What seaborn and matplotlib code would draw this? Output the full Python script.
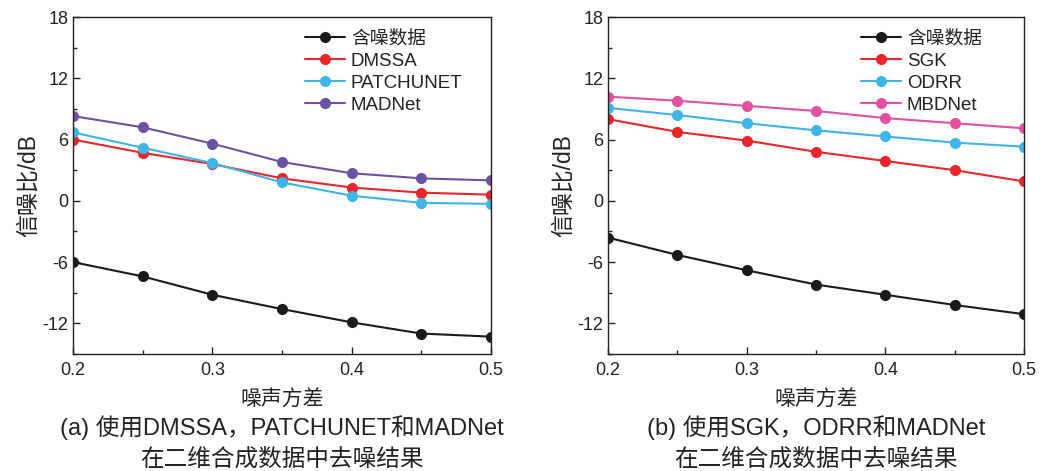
import numpy as np
import pandas as pd
import matplotlib
matplotlib.use("Agg")
import matplotlib.pyplot as plt
import seaborn as sns
from matplotlib.ticker import MultipleLocator

noise_var = [0.2, 0.25, 0.3, 0.35, 0.4, 0.45, 0.5]

# Panel (a)
a_names = ["含噪数据", "DMSSA", "PATCHUNET", "MADNet"]
a_noisy = [-6.0, -7.4, -9.2, -10.6, -11.9, -13.0, -13.3]
a_dmssa = [6.0, 4.7, 3.6, 2.2, 1.3, 0.8, 0.6]
a_patch = [6.7, 5.2, 3.7, 1.8, 0.5, -0.2, -0.3]
a_madnet = [8.3, 7.2, 5.6, 3.8, 2.7, 2.2, 2.0]

# Panel (b)
b_names = ["含噪数据", "SGK", "ODRR", "MBDNet"]
b_noisy = [-3.6, -5.3, -6.8, -8.2, -9.2, -10.2, -11.1]
b_sgk = [8.0, 6.75, 5.9, 4.8, 3.9, 3.0, 1.9]
b_odrr = [9.1, 8.4, 7.6, 6.9, 6.3, 5.7, 5.3]
b_mbdnet = [10.2, 9.8, 9.3, 8.8, 8.1, 7.6, 7.1]

a_colors = ["#1a1a1a", "#e8262b", "#3db5e6", "#6a52a3"]
b_colors = ["#1a1a1a", "#e8262b", "#3db5e6", "#e2519f"]

xticks = [0.2, 0.3, 0.4, 0.5]
yticks = [-12, -6, 0, 6, 12, 18]
xlabel = "噪声方差"
ylabel = "信噪比/dB"
cap_a = ["(a) 使用DMSSA，PATCHUNET和MADNet", "在二维合成数据中去噪结果"]
cap_b = ["(b) 使用SGK，ODRR和MADNet", "在二维合成数据中去噪结果"]

sns.set_style("ticks")
plt.rcParams['font.family'] = ['Liberation Sans', 'Noto Sans CJK SC', 'DejaVu Sans']
plt.rcParams['axes.unicode_minus'] = False
txt_color = "#222222"

W, H = 1044, 471
fig = plt.figure(figsize=(W / 100, H / 100), dpi=100)
ax1 = fig.add_axes([73 / W, 1 - 354 / H, (491 - 73) / W, (354 - 17) / H])
ax2 = fig.add_axes([608 / W, 1 - 354 / H, (1024 - 608) / W, (354 - 17) / H])


def make_df(names, series):
    rows = []
    for n, s in zip(names, series):
        for x, y in zip(noise_var, s):
            rows.append({"x": x, "y": y, "name": n})
    return pd.DataFrame(rows)


def draw(ax, names, series, colors, cap, leg_x):
    df = make_df(names, series)
    sns.lineplot(data=df, x="x", y="y", hue="name", hue_order=names,
                 palette=colors, marker="o", markersize=8, markeredgewidth=0,
                 linewidth=1.5, ax=ax, legend=True)
    ax.set_xlim(0.2, 0.5)
    ax.set_ylim(-15, 18)
    ax.set_xticks(xticks)
    ax.set_xticklabels([f"{t:.1f}" for t in xticks])
    ax.xaxis.set_minor_locator(MultipleLocator(0.05))
    ax.set_yticks(yticks)
    ax.set_yticklabels([str(t) for t in yticks])
    ax.yaxis.set_minor_locator(MultipleLocator(3))
    ax.tick_params(which="both", direction="in", labelsize=13, colors="#222222",
                   labelcolor=txt_color)
    ax.tick_params(which="major", length=5, width=1)
    ax.tick_params(which="minor", length=3, width=1)
    ax.tick_params(axis="x", pad=6)
    for sp in ax.spines.values():
        sp.set_linewidth(1.0)
        sp.set_color("#222222")
        sp.set_visible(True)
    ax.set_xlabel(xlabel, fontsize=15, color=txt_color, labelpad=7)
    ax.set_ylabel(ylabel, fontsize=16.5, color=txt_color, labelpad=2)
    leg = ax.legend(loc="upper left", bbox_to_anchor=(leg_x, 0.962), frameon=False,
                    fontsize=13.5, handlelength=2.15, handletextpad=0.3,
                    labelspacing=0.27, borderaxespad=0.0, borderpad=0.0)
    for t in leg.get_texts():
        t.set_color(txt_color)
    pos = ax.get_position()
    cx = (pos.x0 + pos.x1) / 2
    fig.text(cx, 1 - 428 / H, cap[0], ha="center", va="center", fontsize=17,
             color=txt_color)
    fig.text(cx, 1 - 459 / H, cap[1], ha="center", va="center", fontsize=17,
             color=txt_color)


draw(ax1, a_names, [a_noisy, a_dmssa, a_patch, a_madnet], a_colors, cap_a, 0.555)
draw(ax2, b_names, [b_noisy, b_sgk, b_odrr, b_mbdnet], b_colors, cap_b, 0.608)

fig.savefig("out.png", dpi=100)
